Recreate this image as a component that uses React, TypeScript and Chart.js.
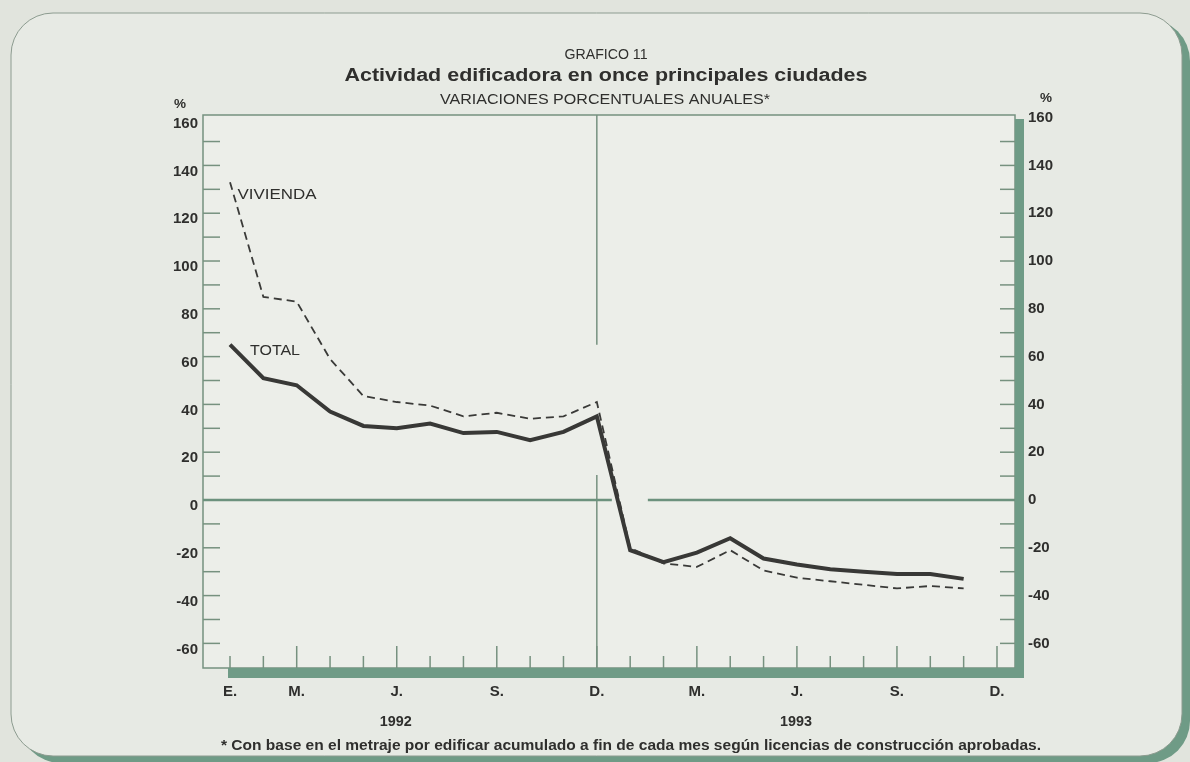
import React, { useEffect, useRef } from 'react';
import { Chart, registerables } from 'chart.js';

Chart.register(...registerables);

// ---- Data ----
const monthNames = [
  'Ene 92', 'Feb 92', 'Mar 92', 'Abr 92', 'May 92', 'Jun 92', 'Jul 92', 'Ago 92', 'Sep 92', 'Oct 92', 'Nov 92', 'Dic 92',
  'Ene 93', 'Feb 93', 'Mar 93', 'Abr 93', 'May 93', 'Jun 93', 'Jul 93', 'Ago 93', 'Sep 93', 'Oct 93', 'Nov 93', 'Dic 93',
];
const totalValues = [65, 51, 48, 37, 31, 30, 32, 28, 28.5, 25, 28.5, 35, -21, -26, -22, -16, -24.5, -27, -29, -30, -31, -31, -33];
const viviendaValues = [133, 85, 83, 59, 43.5, 41, 39.5, 35, 36.5, 34, 35, 41, -20, -26.5, -28, -21, -29.5, -32.5, -34, -35.5, -37, -36, -37];
const xTickIndices = [0, 2, 5, 8, 11, 14, 17, 20, 23];
const xTickLabels = ['E.', 'M.', 'J.', 'S.', 'D.', 'M.', 'J.', 'S.', 'D.'];
const yTickValues = [-60, -40, -20, 0, 20, 40, 60, 80, 100, 120, 140, 160];
const yMinorTickValues = [-60, -50, -40, -30, -20, -10, 0, 10, 20, 30, 40, 50, 60, 70, 80, 90, 100, 110, 120, 130, 140, 150];
const yearLabels = ['1992', '1993'];
const yearMonthIndex = [5, 17];

const TITLE_TOP = 'GRAFICO 11';
const TITLE_MAIN = 'Actividad edificadora en once principales ciudades';
const TITLE_SUB = 'VARIACIONES PORCENTUALES ANUALES*';
const FOOTNOTE = '* Con base en el metraje por edificar acumulado a fin de cada mes según licencias de construcción aprobadas.';

// ---- Styles ----
const PAGE_BG = '#e1e4dd';
const PANEL_BG = '#e7eae4';
const PLOT_BG = '#eceee9';
const GREEN = '#6f9b86';
const AXIS = '#76917f';
const INK = '#2f2f2d';
const FONT = '"Liberation Sans", Arial, sans-serif';

function roundRect(ctx: CanvasRenderingContext2D, x: number, y: number, w: number, h: number, r: number) {
  ctx.beginPath();
  ctx.moveTo(x + r, y);
  ctx.lineTo(x + w - r, y);
  ctx.arcTo(x + w, y, x + w, y + r, r);
  ctx.lineTo(x + w, y + h - r);
  ctx.arcTo(x + w, y + h, x + w - r, y + h, r);
  ctx.lineTo(x + r, y + h);
  ctx.arcTo(x, y + h, x, y + h - r, r);
  ctx.lineTo(x, y + r);
  ctx.arcTo(x, y, x + r, y, r);
  ctx.closePath();
}

function fitText(ctx: CanvasRenderingContext2D, text: string, cx: number, cy: number, font: string, width: number, color = INK) {
  ctx.save();
  ctx.font = font;
  ctx.fillStyle = color;
  ctx.textAlign = 'center';
  ctx.textBaseline = 'middle';
  const w = ctx.measureText(text).width;
  ctx.translate(cx, cy);
  ctx.scale(width / w, 1);
  ctx.fillText(text, 0, 0);
  ctx.restore();
}

function line(ctx: CanvasRenderingContext2D, x1: number, y1: number, x2: number, y2: number) {
  ctx.beginPath();
  ctx.moveTo(x1, y1);
  ctx.lineTo(x2, y2);
  ctx.stroke();
}

const decorPlugin = {
  id: 'decor',
  beforeDraw(chart: any) {
    const { ctx, chartArea: a } = chart;
    ctx.save();
    ctx.fillStyle = PAGE_BG;
    ctx.fillRect(0, 0, chart.width, chart.height);
    // panel shadow
    roundRect(ctx, 19, 19, 1171, 744, 42);
    ctx.fillStyle = GREEN;
    ctx.fill();
    // panel
    roundRect(ctx, 11, 13, 1171, 743, 42);
    ctx.fillStyle = PANEL_BG;
    ctx.fill();
    ctx.strokeStyle = '#8d9c90';
    ctx.lineWidth = 1;
    ctx.stroke();
    // plot area
    ctx.fillStyle = PLOT_BG;
    ctx.fillRect(a.left, a.top, a.right - a.left, a.bottom - a.top);
    ctx.restore();
  },
  beforeDatasetsDraw(chart: any) {
    const { ctx, chartArea: a, scales } = chart;
    const xs = scales.x;
    const ys = scales.y;
    ctx.save();
    ctx.strokeStyle = AXIS;
    ctx.lineWidth = 1.5;
    ctx.strokeRect(a.left, a.top, a.right - a.left, a.bottom - a.top);
    // left & right minor ticks
    yMinorTickValues.forEach((v) => {
      const y = ys.getPixelForValue(v);
      line(ctx, a.left, y, a.left + 17, y);
      line(ctx, a.right - 15, y, a.right, y);
    });
    // bottom ticks
    monthNames.forEach((_, i) => {
      const x = xs.getPixelForValue(i);
      const len = i > 0 && xTickIndices.includes(i) ? 22 : 12;
      line(ctx, x, a.bottom, x, a.bottom - len);
    });
    // vertical separator at Dec 92 (broken where the series drop)
    const xd = xs.getPixelForValue(11);
    line(ctx, xd, a.top, xd, ys.getPixelForValue(65));
    line(ctx, xd, ys.getPixelForValue(10.5), xd, a.bottom);
    // zero line (broken)
    const y0 = ys.getPixelForValue(0);
    ctx.lineWidth = 2.5;
    ctx.strokeStyle = '#6c917d';
    line(ctx, a.left, y0, xs.getPixelForValue(11.45), y0);
    line(ctx, xs.getPixelForValue(12.53), y0, a.right, y0);
    // green shadow bars
    ctx.fillStyle = GREEN;
    ctx.fillRect(a.right, a.top + 4, 9, a.bottom - a.top + 6);
    ctx.fillRect(a.left + 25, a.bottom, a.right + 9 - (a.left + 25), 10);
    ctx.restore();
  },
  afterDraw(chart: any) {
    const { ctx, scales } = chart;
    const xs = scales.x;
    fitText(ctx, TITLE_TOP, 606, 55, `14px ${FONT}`, 83);
    fitText(ctx, TITLE_MAIN, 606, 76, `bold 18px ${FONT}`, 523);
    fitText(ctx, TITLE_SUB, 605, 100, `14px ${FONT}`, 330);
    fitText(ctx, '%', 180, 105, `bold 12px ${FONT}`, 12);
    fitText(ctx, '%', 1046, 99, `bold 12px ${FONT}`, 12);
    fitText(ctx, 'VIVIENDA', 277, 195, `14px ${FONT}`, 79);
    fitText(ctx, 'TOTAL', 275, 351, `14px ${FONT}`, 50);
    yearLabels.forEach((t, i) => {
      fitText(ctx, t, xs.getPixelForValue(yearMonthIndex[i]) - 1, 722, `bold 14px ${FONT}`, 32);
    });
    fitText(ctx, FOOTNOTE, 631, 746, `bold 14px ${FONT}`, 820);
  },
};

export default function App() {
  const ref = useRef<HTMLCanvasElement | null>(null);

  useEffect(() => {
    if (!ref.current) return;
    const tickFont = { family: FONT, size: 15, weight: 'bold' as const };
    const chart = new Chart(ref.current, {
      type: 'line',
      data: {
        datasets: [
          {
            label: 'VIVIENDA',
            data: viviendaValues.map((v, i) => ({ x: i, y: v })),
            borderColor: '#3a3a38',
            borderWidth: 1.8,
            borderDash: [8, 5],
            pointRadius: 0,
            tension: 0,
            fill: false,
          },
          {
            label: 'TOTAL',
            data: totalValues.map((v, i) => ({ x: i, y: v })),
            borderColor: '#383836',
            borderWidth: 4,
            pointRadius: 0,
            tension: 0,
            fill: false,
          },
        ],
      },
      options: {
        responsive: false,
        animation: false,
        events: [],
        layout: { padding: { top: 115, left: 0, right: 0, bottom: 0 } },
        plugins: { legend: { display: false }, tooltip: { enabled: false }, title: { display: false } },
        scales: {
          x: {
            type: 'linear',
            min: -0.81,
            max: 23.54,
            grid: { display: false, drawTicks: false },
            border: { display: false },
            afterBuildTicks: (s: any) => {
              s.ticks = xTickIndices.map((v) => ({ value: v }));
            },
            afterFit: (s: any) => {
              s.height = 94;
            },
            ticks: {
              autoSkip: false,
              maxRotation: 0,
              padding: 15,
              color: INK,
              font: tickFont,
              callback: (v: any) => xTickLabels[xTickIndices.indexOf(Number(v))] ?? '',
            },
          },
          y: {
            type: 'linear',
            position: 'left',
            min: -70.3,
            max: 161.1,
            grid: { display: false, drawTicks: false },
            border: { display: false },
            afterBuildTicks: (s: any) => {
              s.ticks = yTickValues.map((v) => ({ value: v }));
            },
            afterFit: (s: any) => {
              s.width = 203;
            },
            ticks: { padding: 5, labelOffset: 6, color: INK, font: tickFont, callback: (v: any) => String(v) },
          },
          y2: {
            type: 'linear',
            position: 'right',
            min: -70.3,
            max: 161.1,
            grid: { display: false, drawTicks: false },
            border: { display: false },
            afterBuildTicks: (s: any) => {
              s.ticks = yTickValues.map((v) => ({ value: v }));
            },
            afterFit: (s: any) => {
              s.width = 175;
            },
            ticks: { padding: 13, color: INK, font: tickFont, callback: (v: any) => String(v) },
          },
        },
      },
      plugins: [decorPlugin],
    });
    return () => chart.destroy();
  }, []);

  return (
    <div style={{ position: 'fixed', left: 0, top: 0, width: 1190, height: 762, background: PAGE_BG }}>
      <canvas ref={ref} width={1190} height={762} style={{ display: 'block' }} />
    </div>
  );
}
